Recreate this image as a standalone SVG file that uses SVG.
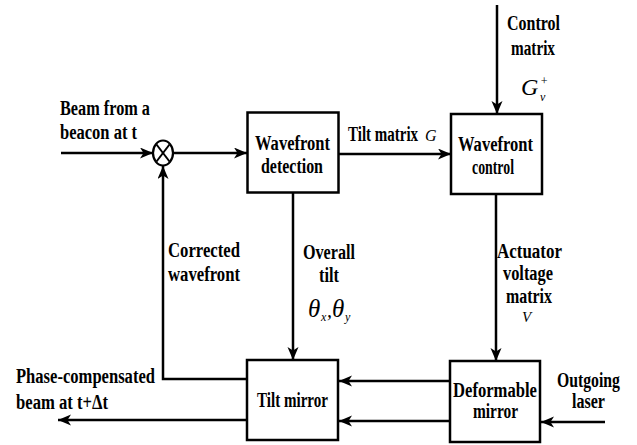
<svg xmlns="http://www.w3.org/2000/svg" width="637" height="445" viewBox="0 0 637 445">
<style>
.t{font-family:"Liberation Serif","Times New Roman",serif;font-weight:bold;font-size:20px;fill:#000}
.m{font-family:"Liberation Serif","Times New Roman",serif;font-style:italic;font-weight:normal;fill:#000}
.box{fill:#fff;stroke:#000;stroke-width:2.5}
.ln{fill:none;stroke:#000;stroke-width:2.5}
</style>
<defs>
<marker id="ah" markerUnits="userSpaceOnUse" markerWidth="14" markerHeight="12" refX="13" refY="5.5" orient="auto">
<path d="M0,0 L13,5.5 L0,11 L3.5,5.5 z" fill="#000"/>
</marker>
</defs>
<rect width="637" height="445" fill="#fff"/>
<g id="connectors">
<line class="ln" x1="61" y1="153" x2="153" y2="153" marker-end="url(#ah)"/>
<line class="ln" x1="173" y1="153" x2="247" y2="153" marker-end="url(#ah)"/>
<polyline class="ln" points="247,379 163,379 163,166" marker-end="url(#ah)"/>
<line class="ln" x1="339" y1="154" x2="451" y2="154" marker-end="url(#ah)"/>
<line class="ln" x1="497" y1="5" x2="497" y2="114" marker-end="url(#ah)"/>
<line class="ln" x1="293" y1="193" x2="293" y2="360" marker-end="url(#ah)"/>
<line class="ln" x1="496" y1="194" x2="496" y2="361" marker-end="url(#ah)"/>
<line class="ln" x1="450" y1="381" x2="339" y2="381" marker-end="url(#ah)"/>
<line class="ln" x1="450" y1="421" x2="339" y2="421" marker-end="url(#ah)"/>
<line class="ln" x1="605" y1="422" x2="541" y2="422" marker-end="url(#ah)"/>
<line class="ln" x1="247" y1="420" x2="58" y2="420" marker-end="url(#ah)"/>
</g>
<g id="sum">
<ellipse cx="163" cy="153" rx="10" ry="12.5" fill="#fff" stroke="#000" stroke-width="2.2"/>
<line x1="156.5" y1="144.5" x2="169.5" y2="161.5" stroke="#000" stroke-width="2"/>
<line x1="169.5" y1="144.5" x2="156.5" y2="161.5" stroke="#000" stroke-width="2"/>
</g>
<g id="detection">
<rect class="box" x="247.5" y="112.5" width="91" height="80"/>
<text class="t" x="255" y="150" textLength="75" lengthAdjust="spacingAndGlyphs">Wavefront</text>
<text class="t" x="261" y="173" textLength="62" lengthAdjust="spacingAndGlyphs">detection</text>
</g>
<g id="control">
<rect class="box" x="451" y="114" width="91" height="80"/>
<text class="t" x="458" y="151" textLength="75" lengthAdjust="spacingAndGlyphs">Wavefront</text>
<text class="t" x="472" y="174" textLength="42" lengthAdjust="spacingAndGlyphs">control</text>
</g>
<g id="tilt">
<rect class="box" x="247" y="360" width="91" height="80"/>
<text class="t" x="257" y="407" textLength="71" lengthAdjust="spacingAndGlyphs">Tilt mirror</text>
</g>
<g id="deformable">
<rect class="box" x="450" y="361" width="90" height="81"/>
<text class="t" x="453" y="397" textLength="84" lengthAdjust="spacingAndGlyphs">Deformable</text>
<text class="t" x="473" y="418" textLength="45" lengthAdjust="spacingAndGlyphs">mirror</text>
</g>
<g id="labels">
<text class="t" x="60" y="115" textLength="90" lengthAdjust="spacingAndGlyphs">Beam from a</text>
<text class="t" x="60" y="139" textLength="77" lengthAdjust="spacingAndGlyphs">beacon at t</text>
<text class="t" transform="translate(348,141) scale(0.75,1)">Tilt matrix</text>
<text class="m" x="425" y="141" font-size="16">G</text>
<text class="t" x="507" y="30" textLength="53" lengthAdjust="spacingAndGlyphs">Control</text>
<text class="t" x="511" y="55" textLength="44" lengthAdjust="spacingAndGlyphs">matrix</text>
<text class="m" x="521" y="95" font-size="24">G</text>
<text class="m" x="540" y="85" font-size="12">+</text>
<text class="m" x="540" y="101" font-size="12">v</text>
<text class="t" x="303" y="259" textLength="52" lengthAdjust="spacingAndGlyphs">Overall</text>
<text class="t" x="319" y="282" textLength="20" lengthAdjust="spacingAndGlyphs">tilt</text>
<text class="m" x="308" y="317" font-size="25">θ</text>
<text class="m" x="321" y="321" font-size="12">x</text>
<text class="m" x="327" y="317" font-size="20">,</text>
<text class="m" x="332" y="317" font-size="25">θ</text>
<text class="m" x="345" y="321" font-size="12">y</text>
<text class="t" x="168" y="257" textLength="72" lengthAdjust="spacingAndGlyphs">Corrected</text>
<text class="t" x="168" y="281" textLength="72" lengthAdjust="spacingAndGlyphs">wavefront</text>
<text class="t" x="497" y="258" textLength="65" lengthAdjust="spacingAndGlyphs">Actuator</text>
<text class="t" x="503" y="280" textLength="50" lengthAdjust="spacingAndGlyphs">voltage</text>
<text class="t" x="506" y="303" textLength="46" lengthAdjust="spacingAndGlyphs">matrix</text>
<text class="m" x="522" y="322" font-size="15">V</text>
<text class="t" x="16" y="383" textLength="139" lengthAdjust="spacingAndGlyphs">Phase-compensated</text>
<text class="t" x="16" y="409" textLength="92" lengthAdjust="spacingAndGlyphs">beam at t+Δt</text>
<text class="t" x="557" y="387" textLength="63" lengthAdjust="spacingAndGlyphs">Outgoing</text>
<text class="t" x="572" y="408" textLength="33" lengthAdjust="spacingAndGlyphs">laser</text>
</g>
</svg>
